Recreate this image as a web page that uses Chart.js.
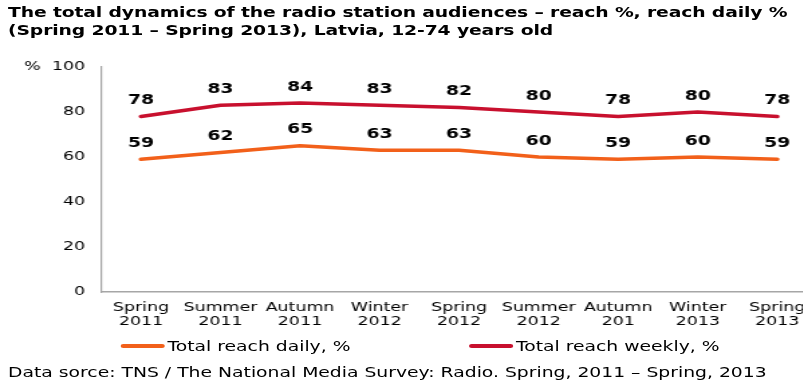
<!DOCTYPE html>
<html>
<head>
<meta charset="utf-8">
<script src="https://cdn.jsdelivr.net/npm/chart.js@4"></script>
<style>
  html, body { margin: 0; padding: 0; background: #fff; overflow: hidden; }
  body { width: 803px; height: 382px; position: relative; font-family: "DejaVu Sans", Verdana, sans-serif; }
  /* the whole figure uses a wide, horizontally stretched lettering */
  #page { position: absolute; left: 0; top: 0; width: 610px; height: 382px; transform: scaleX(1.34); transform-origin: 0 0; }
  #title { position: absolute; left: 6px; top: 3px; font-weight: bold; font-size: 14px; line-height: 18px; letter-spacing: -0.1px; color: #000; white-space: nowrap; }
  #chart { position: absolute; left: 0; top: 0; }
  #legend { position: absolute; top: 336px; left: 0; width: 600px; height: 20px; font-size: 14px; color: #000; }
  .swatch { position: absolute; top: 8px; height: 4px; border-radius: 2px; }
  .label { position: absolute; top: 0; white-space: nowrap; line-height: 20px; }
  #source { position: absolute; left: 6px; top: 364px; font-size: 14px; line-height: 17px; color: #000; white-space: nowrap; }
</style>
</head>
<body>
<div id="page">
  <div id="title">The total dynamics of the radio station audiences – reach %, reach daily %<br>(Spring 2011 – Spring 2013), Latvia, 12-74 years old</div>
  <canvas id="chart" width="610" height="337"></canvas>
  <div id="legend"></div>
  <div id="source">Data sorce: TNS / The National Media Survey: Radio. Spring, 2011 – Spring, 2013</div>
</div>
<script>
// Survey waves (two-line axis labels)
const periods = [
  ["Spring", "2011"], ["Summer", "2011"], ["Autumn", "2011"], ["Winter", "2012"],
  ["Spring", "2012"], ["Summer", "2012"], ["Autumn", "201"], ["Winter", "2013"], ["Spring", "2013"]
];
// Audience reach, %
const reachDaily  = [59, 62, 65, 63, 63, 60, 59, 60, 59];
const reachWeekly = [78, 83, 84, 83, 82, 80, 78, 80, 78];
const seriesNames = ["Total reach daily, %", "Total reach weekly, %"];
const yTicks = [0, 20, 40, 60, 80, 100];

const ORANGE = "#F2601A";
const RED = "#C8102E";
const FONT = "'DejaVu Sans', Verdana, sans-serif";

// Value labels above every point
const valueLabels = {
  id: "valueLabels",
  afterDatasetsDraw(chart) {
    const ctx = chart.ctx;
    ctx.save();
    ctx.font = "bold 14px " + FONT;
    ctx.fillStyle = "#000";
    ctx.textAlign = "center";
    ctx.textBaseline = "middle";
    chart.data.datasets.forEach((ds, i) => {
      chart.getDatasetMeta(i).data.forEach((pt, j) => {
        ctx.fillText(String(ds.data[j]), pt.x, pt.y - 16);
      });
    });
    ctx.restore();
  }
};

const chart = new Chart(document.getElementById("chart"), {
  type: "line",
  data: {
    labels: periods,
    datasets: [
      { label: seriesNames[0], data: reachDaily, borderColor: ORANGE, backgroundColor: ORANGE },
      { label: seriesNames[1], data: reachWeekly, borderColor: RED, backgroundColor: RED }
    ]
  },
  options: {
    responsive: false,
    animation: false,
    devicePixelRatio: 1,
    layout: { padding: { top: 67, right: 0, bottom: 0, left: 0 } },
    elements: {
      line: { borderWidth: 3.5, tension: 0, borderCapStyle: "round", borderJoinStyle: "round" },
      point: { radius: 0, hoverRadius: 0 }
    },
    plugins: { legend: { display: false }, tooltip: { enabled: false } },
    scales: {
      x: {
        offset: true,
        afterFit(scale) { scale.height = 45; },
        grid: { display: false, drawTicks: false },
        border: { display: true, color: "#a6a6a6", width: 1.5 },
        ticks: {
          color: "#000", font: { family: FONT, size: 13, lineHeight: 1.05 },
          padding: 9, maxRotation: 0, autoSkip: false
        }
      },
      y: {
        min: 0, max: 100,
        afterFit(scale) { scale.width = 75.5; },
        afterBuildTicks(scale) { scale.ticks = yTicks.map(v => ({ value: v })); },
        grid: { display: false, drawTicks: false },
        border: { display: true, color: "#a6a6a6", width: 1.2 },
        ticks: {
          color: "#000", font: { family: FONT, size: 13 }, padding: 12,
          callback: v => (v === 100 ? "%  100" : String(v))
        }
      }
    }
  },
  plugins: [valueLabels]
});

// Legend built from the datasets
const legend = document.getElementById("legend");
const legendX = [90, 350];
chart.data.datasets.forEach((ds, i) => {
  const sw = document.createElement("div");
  sw.className = "swatch";
  sw.style.left = legendX[i] + "px";
  sw.style.width = "33px";
  sw.style.background = ds.borderColor;
  legend.appendChild(sw);
  const lab = document.createElement("div");
  lab.className = "label";
  lab.style.left = (legendX[i] + 35) + "px";
  lab.textContent = ds.label;
  legend.appendChild(lab);
});
</script>
</body>
</html>
